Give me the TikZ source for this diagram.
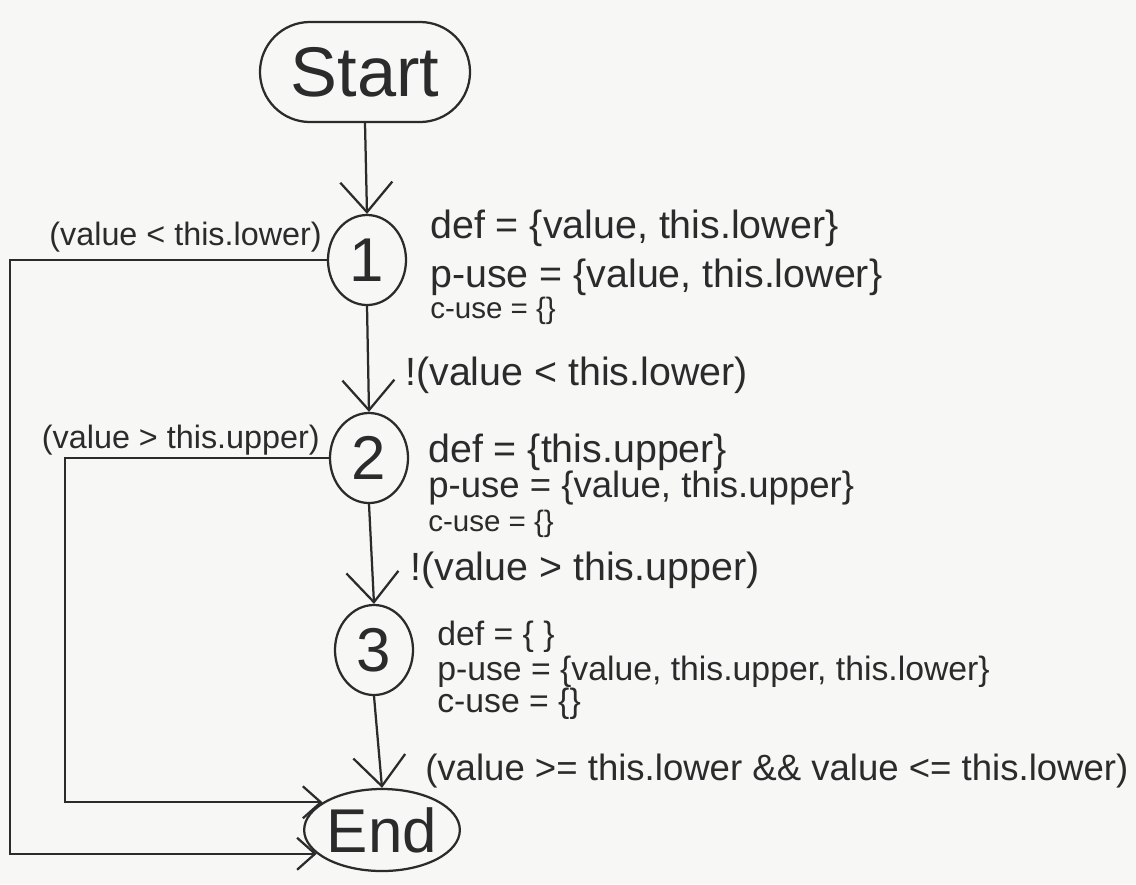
\documentclass[tikz,border=0pt]{standalone}
\usepackage{fontspec}
\setmainfont{Liberation Sans}
\usepackage{tikz}
\usetikzlibrary{shapes.geometric,arrows.meta}
\definecolor{inkcolor}{HTML}{2B2B2B}
\definecolor{papercolor}{HTML}{F7F7F5}
\tikzstyle{terminal} = [
    draw=inkcolor,
    line width=1.6pt,
    text=inkcolor,
    rounded corners=1.25cm,
    minimum width=5.25cm,
    minimum height=2.5cm,
    font=\fontsize{50}{54}\selectfont
    ]
\tikzstyle{endbox} = [
    draw=inkcolor,
    line width=1.6pt,
    text=inkcolor,
    ellipse,
    inner sep=0pt,
    minimum width=3.5cm,
    minimum height=2.05cm,
    font=\fontsize{44}{48}\selectfont
    ]
\tikzstyle{stepnode} = [
    draw=inkcolor,
    line width=1.6pt,
    text=inkcolor,
    ellipse,
    inner sep=0pt,
    minimum width=1.95cm,
    minimum height=2.25cm,
    font=\fontsize{44}{48}\selectfont
    ]
\tikzstyle{setline} = [anchor=base west, inner sep=0pt, text=inkcolor, font=\fontsize{28}{32}\selectfont]
\tikzstyle{smallline} = [setline, font=\fontsize{21}{25}\selectfont]
\tikzstyle{condlbl} = [anchor=base west, inner sep=0pt, text=inkcolor, font=\fontsize{28}{32}\selectfont]
\tikzstyle{backlbl} = [anchor=base east, inner sep=0pt, text=inkcolor, font=\fontsize{23}{27}\selectfont]
\tikzstyle{flow} = [draw=inkcolor, line width=1.6pt, -{Straight Barb[length=0.75cm,width=1.3cm,line width=1.6pt]}]
\tikzstyle{sideflow} = [draw=inkcolor, line width=1.6pt, -{Straight Barb[length=0.45cm,width=0.8cm,line width=1.6pt]}]

\begin{document}
\begin{tikzpicture}[x=0.025cm, y=-0.025cm]
\useasboundingbox[fill=papercolor] (0,0) rectangle (1136,884);

\node[terminal] (start) at (365,72) {Start};
\node[stepnode] (n1) at (367,260) {1};
\node[stepnode] (n2) at (369,458) {2};
\node[stepnode] (n3) at (374,650) {3};
\node[endbox] (stop) at (382,830) {End};

% def / use sets
\node[setline] (def1) at (430,238) {def = \{value, this.lower\}};
\node[setline] (puse1) at (430,287) {p-use = \{value, this.lower\}};
\node[smallline] (cuse1) at (430,318) {c-use = \{\}};
\node[setline] (def2) at (428,462) {def = \{this.upper\}};
\node[setline, font=\fontsize{26}{30}\selectfont] (puse2) at (428,497) {p-use = \{value, this.upper\}};
\node[smallline] (cuse2) at (428,531) {c-use = \{\}};
\node[setline, font=\fontsize{24}{28}\selectfont] (def3) at (437,645) {def = \{ \}};
\node[setline, font=\fontsize{24}{28}\selectfont] (puse3) at (437,680) {p-use = \{value, this.upper, this.lower\}};
\node[setline, font=\fontsize{24}{28}\selectfont] (cuse3) at (437,712) {c-use = \{\}};

% conditions
\node[backlbl] (lbl1) at (322,245) {(value < this.lower)};
\node[backlbl] (lbl2) at (320,448) {(value > this.upper)};
\node[condlbl] (lbl12) at (405,385) {!(value < this.lower)};
\node[condlbl] (lbl23) at (410,580) {!(value > this.upper)};
\node[condlbl, font=\fontsize{26}{30}\selectfont] (lbl3e) at (425,780) {(value >= this.lower \&\& value <= this.lower)};

\coordinate (back1) at (10,0);
\coordinate (back2) at (65,0);

\draw[flow] (start.south) -- (n1.north);
\draw[flow] (n1.south) -- (n2.north);
\draw[flow] (n2.south) -- (n3.north);
\draw[flow] (n3.south) -- (stop.north);
\draw[sideflow] (n1.west) -- (n1.west -| back1) |- (stop.200);
\draw[sideflow] (n2.west) -- (n2.west -| back2) |- (stop.155);
\end{tikzpicture}
\end{document}
